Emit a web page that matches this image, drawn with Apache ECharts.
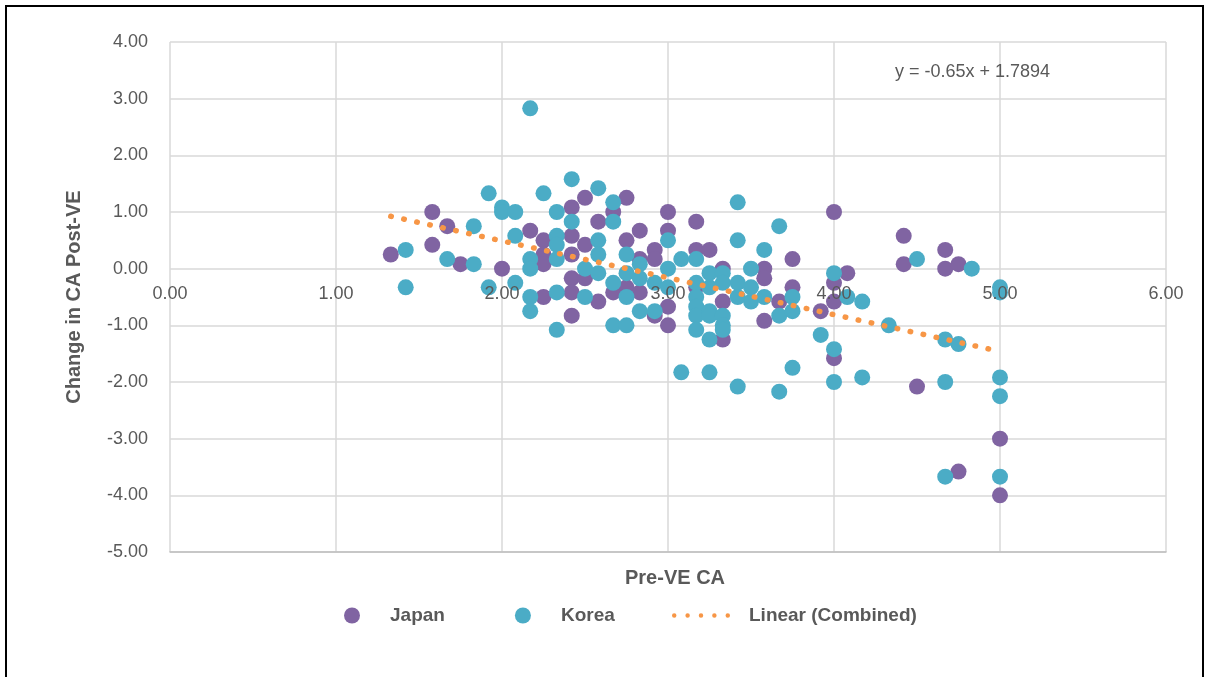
<!DOCTYPE html>
<html>
<head>
<meta charset="utf-8">
<script src="https://cdn.jsdelivr.net/npm/echarts@6/dist/echarts.min.js"></script>
<style>
html,body{margin:0;padding:0;background:#fff;}
#chart{width:1209px;height:677px;}
</style>
</head>
<body>
<div id="chart"></div>
<script>
// Japan: Pre-VE CA / Change in CA Post-VE
var japanX = [1.33,1.58,1.58,1.67,1.75,2.00,2.17,2.25,2.25,2.25,2.25,2.25,2.42,2.42,2.42,2.42,2.42,2.42,2.50,2.50,2.50,2.58,2.58,2.67,2.67,2.75,2.75,2.75,2.83,2.83,2.83,2.92,2.92,2.92,3.00,3.00,3.00,3.00,3.17,3.17,3.17,3.25,3.33,3.33,3.33,3.58,3.58,3.58,3.67,3.75,3.75,3.92,4.00,4.00,4.00,4.00,4.08,4.42,4.42,4.50,4.67,4.67,4.75,4.75,5.00,5.00];
var japanY = [0.25,1.00,0.42,0.75,0.08,0.00,0.67,0.50,0.25,0.17,0.08,-0.50,1.08,0.58,0.25,-0.17,-0.42,-0.83,1.25,0.42,-0.17,0.83,-0.58,1.00,-0.42,1.25,0.50,-0.33,0.67,0.17,-0.42,0.33,0.17,-0.83,1.00,0.67,-0.67,-1.00,0.83,0.33,-0.33,0.33,0.00,-0.58,-1.25,0.00,-0.17,-0.92,-0.58,0.17,-0.33,-0.75,1.00,-0.25,-0.58,-1.58,-0.08,0.58,0.08,-2.08,0.33,0.00,0.08,-3.58,-3.00,-4.00];

// Korea
var koreaX = [1.42,1.42,1.67,1.83,1.83,1.92,1.92,2.00,2.00,2.08,2.08,2.08,2.17,2.17,2.17,2.17,2.17,2.25,2.33,2.33,2.33,2.33,2.33,2.33,2.42,2.42,2.50,2.50,2.58,2.58,2.58,2.58,2.67,2.67,2.67,2.67,2.75,2.75,2.75,2.75,2.83,2.83,2.83,2.92,2.92,3.00,3.00,3.00,3.08,3.08,3.17,3.17,3.17,3.17,3.17,3.17,3.25,3.25,3.25,3.25,3.25,3.25,3.33,3.33,3.33,3.33,3.33,3.42,3.42,3.42,3.42,3.42,3.50,3.50,3.50,3.58,3.58,3.67,3.67,3.67,3.75,3.75,3.75,3.92,4.00,4.00,4.00,4.08,4.17,4.17,4.33,4.50,4.67,4.67,4.67,4.75,4.83,5.00,5.00,5.00,5.00,5.00];
var koreaY = [0.33,-0.33,0.17,0.75,0.08,1.33,-0.33,1.08,1.00,1.00,0.58,-0.25,2.83,0.17,0.00,-0.50,-0.75,1.33,1.00,0.58,0.42,0.17,-0.42,-1.08,1.58,0.83,0.00,-0.50,1.42,0.50,0.25,-0.08,1.17,0.83,-0.25,-1.00,0.25,-0.08,-0.50,-1.00,0.08,-0.17,-0.75,-0.25,-0.75,0.50,0.00,-0.33,0.17,-1.83,0.17,-0.25,-0.50,-0.67,-0.83,-1.08,-0.08,-0.33,-0.75,-0.83,-1.25,-1.83,-0.08,-0.25,-0.83,-1.00,-1.08,1.17,0.50,-0.25,-0.50,-2.08,0.00,-0.33,-0.58,0.33,-0.50,0.75,-0.83,-2.17,-0.50,-0.75,-1.75,-1.17,-0.08,-1.42,-2.00,-0.50,-0.58,-1.92,-1.00,0.17,-1.25,-2.00,-3.67,-1.33,0.00,-0.33,-0.42,-1.92,-2.25,-3.67];

// Linear (Combined) trendline end points, y = -0.65x + 1.7894
var trendX = [1.33, 5.00];
var trendY = [0.925, -1.461];

var xTicks = [0, 1, 2, 3, 4, 5, 6];
var yTicks = [-5, -4, -3, -2, -1, 0, 1, 2, 3, 4];

function pairs(xs, ys){
	var out = [];
	for(var i = 0; i < xs.length; i++)
		out.push([xs[i], ys[i]]);
	return out;
}

var gray = '#595959';
var grid_color = '#D9D9D9';
var font = 'Liberation Sans';
var dotsIcon = 'path://M0,2a2,2 0 1,0 4,0a2,2 0 1,0 -4,0Z M12,2a2,2 0 1,0 4,0a2,2 0 1,0 -4,0Z M24,2a2,2 0 1,0 4,0a2,2 0 1,0 -4,0Z M36,2a2,2 0 1,0 4,0a2,2 0 1,0 -4,0Z M48,2a2,2 0 1,0 4,0a2,2 0 1,0 -4,0Z';

// plot box: top 42, bottom 552, y from -5 to 4 -> the horizontal axis sits at y = 0
var plotTop = 42, plotBottom = 552;
var zeroOffset = -(plotBottom - plotTop) * (0 - yTicks[0]) / (yTicks[yTicks.length - 1] - yTicks[0]);

function tickText(v){ return v.toFixed(2); }

var chart = echarts.init(document.getElementById('chart'));

chart.setOption({
	animation: false,
	backgroundColor: '#fff',
	textStyle: { fontFamily: font },
	title: [{
		text: 'y = -0.65x + 1.7894',
		left: 890,
		top: 58,
		textStyle: { color: gray, fontSize: 18, fontWeight: 'normal', fontFamily: font }
	}, {
		text: 'Pre-VE CA',
		left: 670,
		top: 563,
		textAlign: 'center',
		textStyle: { color: gray, fontSize: 20, fontWeight: 'bold', fontFamily: font }
	}],
	graphic: [{
		type: 'rect',
		shape: { x: 6, y: 6, width: 1197, height: 700 },
		style: { fill: 'none', stroke: '#000', lineWidth: 2 },
		silent: true
	}],
	legend: [{
		data: ['Japan', 'Korea'],
		left: 339,
		top: 601,
		icon: 'circle',
		itemWidth: 16,
		itemHeight: 16,
		itemGap: 70,
		textStyle: { color: gray, fontSize: 19, fontWeight: 'bold', fontFamily: font, padding: [0, 0, 0, 25] }
	}, {
		data: [{ name: 'Linear (Combined)', icon: dotsIcon }],
		left: 667,
		top: 601,
		itemWidth: 58,
		itemHeight: 5,
		textStyle: { color: gray, fontSize: 19, fontWeight: 'bold', fontFamily: font, padding: [0, 0, 0, 14] }
	}],
	grid: { left: 170, right: 43, top: plotTop, bottom: 677 - plotBottom },
	xAxis: [{
		type: 'value',
		min: xTicks[0],
		max: xTicks[xTicks.length - 1],
		interval: 1,
		axisLine: { show: true, onZero: false, lineStyle: { color: '#BFBFBF', width: 1.5 } },
		axisTick: { show: false },
		axisLabel: { show: false },
		splitLine: { show: true, lineStyle: { color: grid_color, width: 1.5 } }
	}, {
		// labels only, drawn on top of the markers at y = 0
		type: 'value',
		min: xTicks[0],
		max: xTicks[xTicks.length - 1],
		interval: 1,
		offset: zeroOffset,
		z: 10,
		axisLine: { show: false, onZero: false },
		axisTick: { show: false },
		splitLine: { show: false },
		axisLabel: {
			margin: 22,
			color: gray,
			fontSize: 18,
			fontFamily: font,
			formatter: tickText
		}
	}],
	yAxis: {
		type: 'value',
		min: yTicks[0],
		max: yTicks[yTicks.length - 1],
		interval: 1,
		name: 'Change in CA Post-VE',
		nameLocation: 'middle',
		nameGap: 86,
		nameTextStyle: { color: gray, fontSize: 20, fontWeight: 'bold', fontFamily: font },
		axisLine: { show: false },
		axisTick: { show: false },
		axisLabel: {
			margin: 22,
			color: gray,
			fontSize: 18,
			fontFamily: font,
			formatter: tickText
		},
		splitLine: { show: true, lineStyle: { color: grid_color, width: 1.5 } }
	},
	series: [{
		name: 'Japan',
		type: 'scatter',
		symbol: 'circle',
		symbolSize: 16,
		itemStyle: { color: '#8064A2', opacity: 1 },
		data: pairs(japanX, japanY)
	}, {
		name: 'Korea',
		type: 'scatter',
		symbol: 'circle',
		symbolSize: 16,
		itemStyle: { color: '#4BACC6', opacity: 1 },
		data: pairs(koreaX, koreaY)
	}, {
		name: 'Linear (Combined)',
		type: 'line',
		showSymbol: false,
		symbol: 'none',
		color: '#F79646',
		lineStyle: { color: '#F79646', width: 5.5, type: [0.5, 12.8], cap: 'round' },
		data: pairs(trendX, trendY)
	}]
});
</script>
</body>
</html>
